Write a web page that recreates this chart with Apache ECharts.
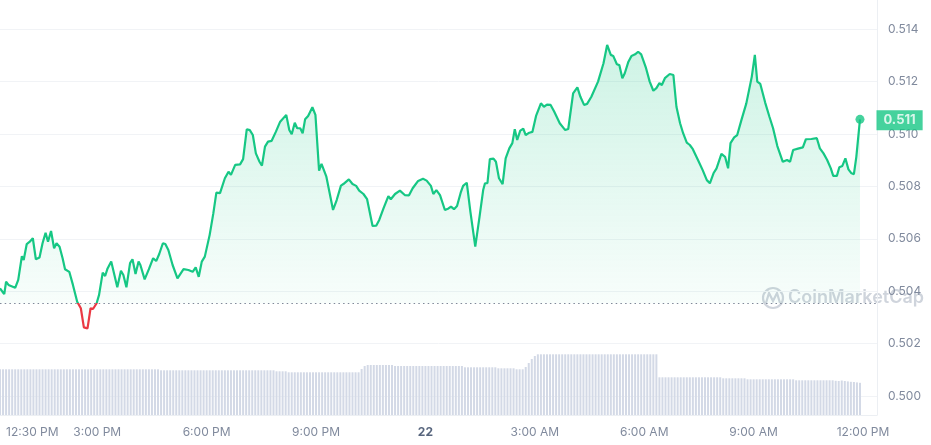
<!DOCTYPE html>
<html><head><meta charset="utf-8">
<script src="https://cdn.jsdelivr.net/npm/echarts@6/dist/echarts.min.js"></script>
<style>html,body{margin:0;padding:0;background:#fff}#c{width:931px;height:445px}</style>
</head><body><div id="c"></div>
<script>
// minutes after 12:00 PM (day 21)
const times = [
20,24,27,30,34,36,45,50,56,59, 64,69,74,79,85,90,95,99,104,109,
113,118,123,127,134,140,147,153,158,164, 169,173,179,183,189,193,197,203,213,219,
223,228,234,238,243,248,251,258,265,272, 277,282,288,292,297,
304,312,322,330,337,342,347,352,357,365, 371,376,382,390,396,400,407,415,420,426,
431,436,441,447,451,456,461,467,474,481, 491,496,500,505,509,514,518,522,527,534,
539,545,549,557,568,574,581,585,594,600, 606,611,618,624,633,639,644,651,659,663,
670,678,686,693,699,708,716,722,729,733, 738,744,752,758,762,767,772,778,782,788,
794,802,809,815,818,822,826,832,836,841, 847,852,858,863,867,871,876,881,885,891,
896,902,910,915,920,926,932,941,950,955, 963,970,975,981,986,993,1004,1013,1019,1025,
1029,1035,1039,1044,1048,1054,1059,1065,1070,1075, 1083,1089,1095,1100,1105,1109,1114,1122,1128,1133,
1139,1144,1150,1155,1160,1163,1169,1176,1183,1188, 1194,1199,1207,1213,1218,1222,1228,1233,1240,1248,
1257,1262,1266,1271,1279,1286,1292,1299,1308,1311, 1315,1320,1325,1333,1341,1346,1355,1364,1369,1375,
1381,1387,1391,1397,1401,1406,1411,1416,1421,1425, 1429,1435
];
const prices = [
0.50411,0.50398,0.50389,0.50436,0.50424,0.50420,0.50413,0.50443,0.50534,0.50519,
0.50580,0.50589,0.50602,0.50522,0.50529,0.50583,0.50623,0.50589,0.50630,0.50564,
0.50583,0.50570,0.50526,0.50484,0.50474,0.50424,0.50360,0.50335,0.50262,0.50258,
0.50335,0.50332,0.50354,0.50386,0.50471,0.50458,0.50487,0.50513,0.50415,0.50478,
0.50462,0.50415,0.50507,0.50522,0.50466,0.50513,0.50500,0.50445,0.50484,0.50526,
0.50515,0.50542,0.50583,0.50580,0.50557,
0.50500,0.50449,0.50484,0.50481,0.50474,0.50491,0.50455,0.50513,0.50532,0.50615,
0.50697,0.50776,0.50774,0.50831,0.50856,0.50844,0.50882,0.50884,0.50904,0.51018,
0.51015,0.50996,0.50926,0.50894,0.50879,0.50952,0.50971,0.50974,0.51009,0.51047,
0.51073,0.51015,0.50999,0.51043,0.51022,0.51022,0.51003,0.51056,0.51069,0.51102,
0.51073,0.50860,0.50886,0.50837,0.50710,0.50748,0.50803,0.50809,0.50827,0.50809,
0.50802,0.50784,0.50771,0.50751,0.50649,0.50650,0.50672,0.50716,0.50763,0.50751,
0.50771,0.50784,0.50767,0.50766,0.50793,0.50821,0.50829,0.50822,0.50802,0.50771,
0.50786,0.50767,0.50710,0.50716,0.50723,0.50713,0.50725,0.50776,0.50802,0.50814,
0.50703,0.50570,0.50684,0.50786,0.50812,0.50812,0.50904,0.50906,0.50894,0.50831,
0.50809,0.50907,0.50945,0.50965,0.51018,0.50977,0.51013,0.51020,0.50996,0.51005,
0.51008,0.51069,0.51117,0.51104,0.51112,0.51111,0.51085,0.51041,0.51015,0.51019,
0.51155,0.51178,0.51142,0.51111,0.51115,0.51142,0.51200,0.51270,0.51340,0.51302,
0.51298,0.51266,0.51263,0.51213,0.51232,0.51276,0.51298,0.51304,0.51314,0.51304,
0.51251,0.51200,0.51165,0.51175,0.51194,0.51187,0.51213,0.51229,0.51225,0.51104,
0.51041,0.51003,0.50967,0.50958,0.50942,0.50942,0.50898,0.50863,0.50824,0.50812,
0.50850,0.50869,0.50924,0.50913,0.50869,0.50965,0.50987,0.50996,0.51054,0.51117,
0.51219,0.51302,0.51200,0.51191,0.51120,0.51066,0.51022,0.50954,0.50894,0.50891,
0.50901,0.50894,0.50939,0.50944,0.50949,0.50980,0.50981,0.50984,0.50945,0.50926,
0.50901,0.50869,0.50840,0.50840,0.50873,0.50878,0.50907,0.50865,0.50850,0.50847,
0.50913,0.51056
];
const baseline = 0.50354;
// 24h volume, run-length encoded: [number of 5-minute bars, value]
const volumeRuns = [
[54,45.7],[38,44.7],[4,43.7],[24,42.7],[1,46],[1,49],[9,50],[23,49],[11,47.7],[6,46.7],
[3,45.7],[1,48],[1,52],[1,56],[1,59],[40,60.7],[21,37.7],[8,36.7],[16,35.7],[13,34.7],
[1,34.2],[1,34],[1,34.5],[1,34],[1,33.6],[1,33.2],[1,33],[1,32.6],[1,32.2]
];
const volumeStart = 15, volumeStep = 5;
const xTickValues = [30,180,360,540,720,900,1080,1260,1440];
const xTickLabels = ['12:30 PM','3:00 PM','6:00 PM','9:00 PM','22','3:00 AM','6:00 AM','9:00 AM','12:00 PM'];

const GREEN = '#16c784', RED = '#ea3943';
const priceData = times.map((t, i) => [t, prices[i]]);
const volumeData = [];
volumeRuns.forEach(([n, v]) => { for (let k = 0; k < n; k++) volumeData.push([volumeStart + volumeStep * volumeData.length, v]); });
const last = priceData[priceData.length - 1];

const chart = echarts.init(document.getElementById('c'));
chart.setOption({
  animation: false,
  textStyle: { fontFamily: 'Inter' },
  grid: [
    { left: 0, right: 54, top: -23.2, bottom: -3.4, outerBoundsMode: 'none', containLabel: false },
    { left: 0, right: 54, top: 0, bottom: 30, outerBoundsMode: 'none', containLabel: false }
  ],
  xAxis: [
    { type: 'value', gridIndex: 0, min: 20, max: 1463, show: false },
    { type: 'value', gridIndex: 1, min: 20, max: 1463,
      axisLine: { show: true, lineStyle: { color: '#eceff3', width: 1 } },
      axisTick: { show: false }, splitLine: { show: false },
      axisLabel: {
        customValues: xTickValues, margin: 11, color: '#808a9d', fontSize: 12, fontFamily: 'Inter',
        alignMinLabel: 'left',
        formatter: v => { const i = xTickValues.indexOf(v); const s = i >= 0 ? xTickLabels[i] : ''; return s === '22' ? '{b|22}' : s; },
        rich: { b: { fontWeight: 'bold', color: '#58667e', fontSize: 12, fontFamily: 'Inter' } }
      }
    }
  ],
  yAxis: [
    { type: 'value', gridIndex: 0, position: 'right', min: 0.498, max: 0.516, interval: 0.002,
      axisLine: { show: false }, axisTick: { show: false },
      splitLine: { lineStyle: { color: '#f1f3f6', width: 1 } },
      axisLabel: { showMinLabel: false, showMaxLabel: false, margin: 11, color: '#808a9d', fontSize: 12, fontFamily: 'Inter', formatter: v => v.toFixed(3) }
    },
    { type: 'value', gridIndex: 1, position: 'right', min: 0, max: 415,
      axisLine: { show: true, lineStyle: { color: '#eceff3', width: 1 } },
      axisTick: { show: false }, axisLabel: { show: false }, splitLine: { show: false }
    }
  ],
  visualMap: {
    type: 'piecewise', show: false, seriesIndex: 0, dimension: 1,
    pieces: [ { gte: 0.40, lt: baseline, color: RED }, { gte: baseline, lte: 0.60, color: GREEN } ]
  },
  series: [
    { type: 'line', xAxisIndex: 0, yAxisIndex: 0, data: priceData, showSymbol: false, symbol: 'none',
      lineStyle: { width: 2.2 }, z: 3,
      areaStyle: { origin: baseline, color: new echarts.graphic.LinearGradient(0, 0, 0, 1, [
        { offset: 0, color: 'rgba(22,199,132,0.30)' }, { offset: 1, color: 'rgba(22,199,132,0.02)' } ]) }
    },
    { type: 'line', xAxisIndex: 0, yAxisIndex: 0, data: [], z: 5, silent: true,
      markLine: { silent: true, symbol: 'none', precision: 6, label: { show: false }, z: 5,
        lineStyle: { type: [1.5, 3.2], color: '#7f8899', width: 1.2 },
        data: [ { yAxis: baseline } ] }
    },
    { type: 'scatter', xAxisIndex: 0, yAxisIndex: 0, data: [last], symbolSize: 9, itemStyle: { color: GREEN }, z: 6, silent: true,
      label: { show: true, position: 'right', distance: 12, formatter: p => p.value[1].toFixed(3),
        backgroundColor: GREEN, color: '#fff', fontFamily: 'Inter', fontWeight: 'bold', fontSize: 13,
        lineHeight: 14, padding: [3, 7, 3, 7], offset: [0, 1] }
    },
    { type: 'bar', xAxisIndex: 1, yAxisIndex: 1, data: volumeData, barWidth: 2, itemStyle: { color: '#d3d9e6' }, silent: true }
  ],
  graphic: [
    { type: 'group', z: 100, silent: true, children: [
      { type: 'circle', shape: { cx: 773, cy: 298, r: 10 }, style: { fill: 'none', stroke: '#cfd4dc', lineWidth: 2.2 } },
      { type: 'polyline', shape: { points: [[766, 303], [769, 293], [773, 301], [777, 293], [780, 303]] }, style: { fill: 'none', stroke: '#cfd4dc', lineWidth: 2.2 } },
      { type: 'text', style: { text: 'CoinMarketCap', x: 788, y: 298, verticalAlign: 'middle', font: '600 18px Inter', fill: '#cfd4dc' } }
    ] }
  ]
});
</script>
</body></html>
